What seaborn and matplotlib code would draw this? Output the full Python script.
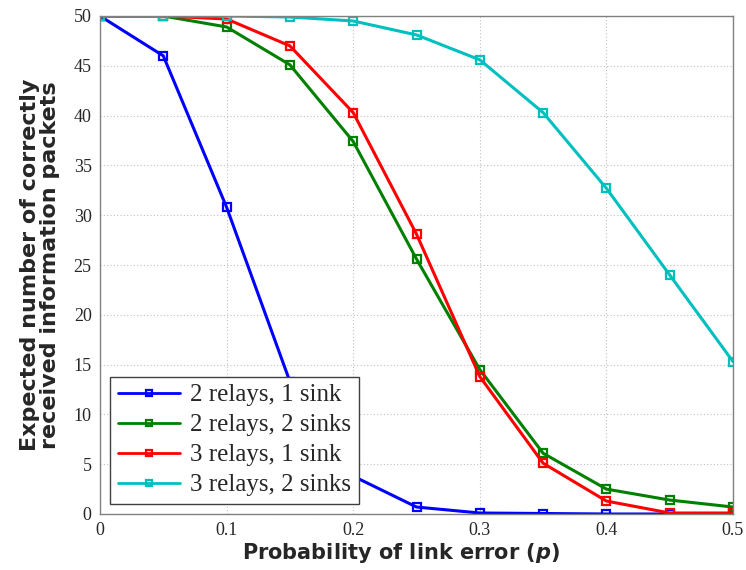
import numpy as np
import pandas as pd
import matplotlib
matplotlib.use("Agg")
import matplotlib.pyplot as plt
import seaborn as sns

p = [0.0, 0.05, 0.1, 0.15, 0.2, 0.25, 0.3, 0.35, 0.4, 0.45, 0.5]
r2_s1 = [50, 46.0, 30.8, 13.3, 3.8, 0.7, 0.1, 0.05, 0.0, 0.0, 0.0]
r2_s2 = [50, 50.0, 48.9, 45.1, 37.4, 25.6, 14.5, 6.1, 2.5, 1.4, 0.7]
r3_s1 = [50, 50.0, 49.7, 47.0, 40.3, 28.1, 13.8, 5.1, 1.3, 0.1, 0.1]
r3_s2 = [50, 50.0, 50.0, 49.9, 49.5, 48.1, 45.6, 40.3, 32.7, 24.0, 15.3]
labels = ["2 relays, 1 sink", "2 relays, 2 sinks", "3 relays, 1 sink", "3 relays, 2 sinks"]
colors = ["#0000ff", "#008000", "#ff0000", "#00bfbf"]
xticks = [0, 0.1, 0.2, 0.3, 0.4, 0.5]
xticklabels = ["0", "0.1", "0.2", "0.3", "0.4", "0.5"]
yticks = list(range(0, 51, 5))

sns.set_style("white")
plt.rcParams["mathtext.fontset"] = "custom"
plt.rcParams["mathtext.it"] = "DejaVu Sans:italic:bold"

fig = plt.figure(figsize=(7.46, 5.70), dpi=100)
ax = fig.add_axes([100/746, 56/570, 633/746, 498/570])

series = [r2_s1, r2_s2, r3_s1, r3_s2]
for vals, lab, col in zip(series, labels, colors):
    df = pd.DataFrame({"p": p, "v": vals})
    sns.lineplot(data=df, x="p", y="v", ax=ax, color=col, linewidth=2.2,
                 marker="s", markersize=6, markerfacecolor="none",
                 markeredgecolor=col, markeredgewidth=1.6, label=lab)

ax.set_xlim(0, 0.5)
ax.set_ylim(0, 50)
ax.set_xticks(xticks)
ax.set_xticklabels(xticklabels)
ax.set_yticks(yticks)
for t in ax.get_xticklabels() + ax.get_yticklabels():
    t.set_fontfamily("Liberation Serif")
    t.set_fontsize(13)
ax.tick_params(direction="in", length=5, color="#808080", pad=6)
ax.grid(True, linestyle=(0, (1, 2)), color="#c0c0c0", linewidth=0.8)
for s in ax.spines.values():
    s.set_color("#808080")
    s.set_linewidth(1.0)

ax.set_xlabel("Probability of link error ($p$)", fontsize=15, fontweight="bold",
              fontfamily="DejaVu Sans", labelpad=3)
ax.xaxis.set_label_coords(0.475, -0.055)
ax.set_ylabel("Expected number of correctly\nreceived information packets", fontsize=16,
              fontweight="bold", fontfamily="DejaVu Sans", labelpad=10, linespacing=1.0)

leg = ax.legend(loc="lower left", prop={"family": "Liberation Serif", "size": 18},
                frameon=True, fancybox=False, edgecolor="#404040", framealpha=1,
                handlelength=2.5, borderpad=0.3, labelspacing=0.3, handletextpad=0.4,
                borderaxespad=0.4)
leg.get_frame().set_linewidth(1.0)
leg.set_zorder(10)
for h in leg.legend_handles:
    h.set_markersize(5)
    h.set_linewidth(2)

fig.savefig("out.png", dpi=100)
